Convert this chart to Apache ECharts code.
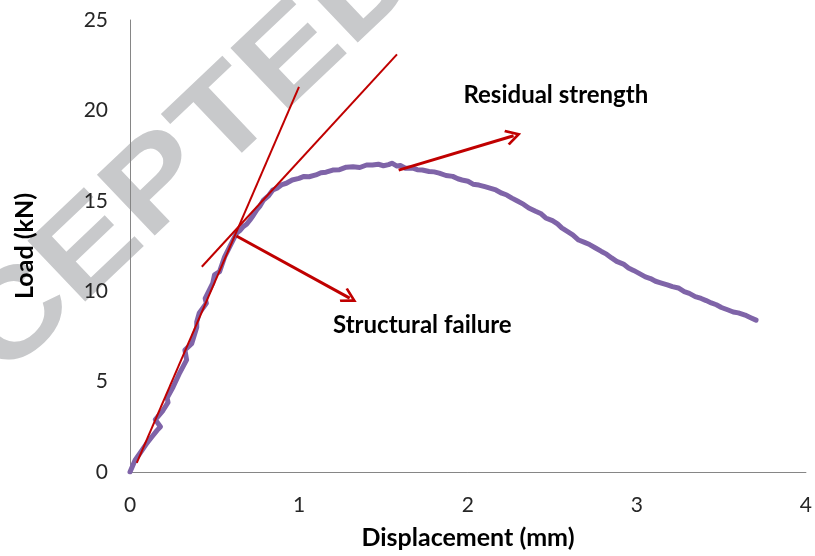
<!DOCTYPE html>
<html>
<head>
<meta charset="utf-8">
<script src="https://cdn.jsdelivr.net/npm/echarts@6/dist/echarts.min.js"></script>
<style>
html,body{margin:0;padding:0;background:#fff;}
#chart{width:815px;height:556px;}
</style>
</head>
<body>
<div id="chart"></div>
<script>
// Displacement (mm) / Load (kN) test curve
const displacement = [0.00,0.01,0.03,0.06,0.10,0.13,0.16,0.18,0.15,0.195,0.225,0.22,0.255,0.295,0.335,0.325,0.365,0.395,0.395,0.41,0.452,0.445,0.49,0.50,0.53,0.56,0.60,
  0.63,0.65,0.67,0.69,0.71,0.73,0.75,0.77,0.79,0.82,0.845,0.87,0.90,0.925,0.96,1.00,1.03,1.06,1.10,1.13,1.16,1.20,1.24,1.28,1.32,1.36,1.40,1.435,1.47,1.50,1.53,1.55,1.58,1.60,
  1.63,1.67,1.70,1.73,1.77,1.80,1.83,1.87,1.91,1.94,1.965,2.00,2.03,2.065,2.10,2.13,2.165,2.20,2.23,2.26,2.29,2.33,2.36,2.40,2.43,2.46,2.50,2.53,2.555,2.59,2.62,2.655,
  2.69,2.72,2.755,2.79,2.82,2.85,2.88,2.92,2.95,2.98,3.01,3.05,3.08,3.11,3.145,3.18,3.21,3.245,3.28,3.31,3.345,3.38,3.41,3.44,3.47,3.50,3.54,3.57,3.60,3.64,3.67,3.705];
const load = [0.00,0.10,0.65,1.05,1.60,1.95,2.30,2.50,2.90,3.40,3.85,4.10,4.70,5.50,6.20,6.75,7.10,8.00,8.30,8.80,9.33,9.60,10.45,10.90,11.08,11.90,12.65,
  13.20,13.35,13.57,13.70,13.94,14.20,14.50,14.72,15.04,15.28,15.60,15.70,15.90,15.97,16.15,16.24,16.35,16.33,16.43,16.55,16.58,16.70,16.72,16.86,16.88,16.84,16.98,16.98,17.02,16.94,17.00,17.08,16.92,16.95,
  16.80,16.82,16.72,16.70,16.62,16.60,16.53,16.40,16.35,16.22,16.15,16.08,15.92,15.87,15.78,15.70,15.60,15.42,15.32,15.15,15.00,14.80,14.60,14.42,14.30,14.05,13.90,13.72,13.50,13.30,13.12,12.83,
  12.70,12.58,12.39,12.20,12.05,11.84,11.65,11.50,11.28,11.15,11.00,10.79,10.70,10.55,10.45,10.35,10.25,10.18,9.98,9.88,9.70,9.60,9.48,9.35,9.25,9.10,8.96,8.85,8.80,8.68,8.55,8.40];

// red construction lines
const tangentSteep  = [[0.04,0.5],[1.0,21.3]];
const tangentSecond = [[0.425,11.35],[1.58,23.1]];
const arrowFailure  = [[0.63,13.05],[1.30,9.62]];
const arrowResidual = [[1.59,16.7],[2.27,18.6]];

// annotation labels
const annotations = [
  {name:'Residual strength', value:[2.52,20.85]},
  {name:'Structural failure', value:[1.73,8.13]}
];

const xTicks = {min:0, max:4, interval:1};
const yTicks = {min:0, max:25, interval:5};

const chart = echarts.init(document.getElementById('chart'), null, {renderer:'canvas'});
const curve = displacement.map((x,i)=>[x,load[i]]);
const openArrow = 'path://M10,0 L20,13 L17.5,14.5 L10,5 L2.5,14.5 L0,13 Z';

chart.setOption({
  animation:false,
  backgroundColor:'#ffffff',
  textStyle:{fontFamily:'Lato'},
  graphic:[{
    type:'text', silent:true, z:-10,
    x:116, y:226, rotation:0.76, scaleX:1.18, scaleY:1,
    style:{text:'ACCEPTED', fill:'#c8c9cb', font:'bold 122px "Liberation Sans"', textAlign:'center', textVerticalAlign:'middle'}
  }],
  grid:{left:130, right:7, top:20, bottom:84, containLabel:false},
  xAxis:{
    type:'value', min:xTicks.min, max:xTicks.max, interval:xTicks.interval,
    name:'Displacement (mm)', nameLocation:'middle', nameGap:53,
    nameTextStyle:{fontFamily:'Lato', fontWeight:'bold', fontSize:25, color:'#000'},
    axisLine:{show:true, onZero:false, lineStyle:{color:'#868686', width:1}},
    axisTick:{show:false},
    splitLine:{show:false},
    axisLabel:{margin:23, fontFamily:'Lato', fontSize:21, color:'#262626'}
  },
  yAxis:{
    type:'value', min:yTicks.min, max:yTicks.max, interval:yTicks.interval,
    name:'Load (kN)', nameLocation:'middle', nameGap:93,
    nameTextStyle:{fontFamily:'Lato', fontWeight:'bold', fontSize:25, color:'#000'},
    axisLine:{show:true, onZero:false, lineStyle:{color:'#868686', width:1}},
    axisTick:{show:false},
    splitLine:{show:false},
    axisLabel:{margin:22, fontFamily:'Lato', fontSize:21, color:'#262626'}
  },
  series:[
    {type:'line', data:curve, showSymbol:false, symbol:'none', smooth:false,
     lineStyle:{color:'#7f64a8', width:5, cap:'round', join:'round'}, z:2},
    {type:'line', data:tangentSteep, symbol:'none', lineStyle:{color:'#c00000', width:2}, z:3},
    {type:'line', data:tangentSecond, symbol:'none', lineStyle:{color:'#c00000', width:2}, z:3},
    {type:'lines', coordinateSystem:'cartesian2d', z:4,
     symbol:['none', openArrow], symbolSize:[0,16],
     lineStyle:{color:'#c00000', width:3, opacity:1},
     itemStyle:{color:'#c00000'},
     data:[{coords:arrowFailure},{coords:arrowResidual}]},
    {type:'scatter', data:annotations, symbolSize:0, z:5,
     itemStyle:{opacity:1},
     label:{show:true, position:'inside', formatter:p=>p.name, fontFamily:'Lato', fontWeight:'bold', fontSize:24, color:'#000', opacity:1}}
  ]
});
</script>
</body>
</html>
